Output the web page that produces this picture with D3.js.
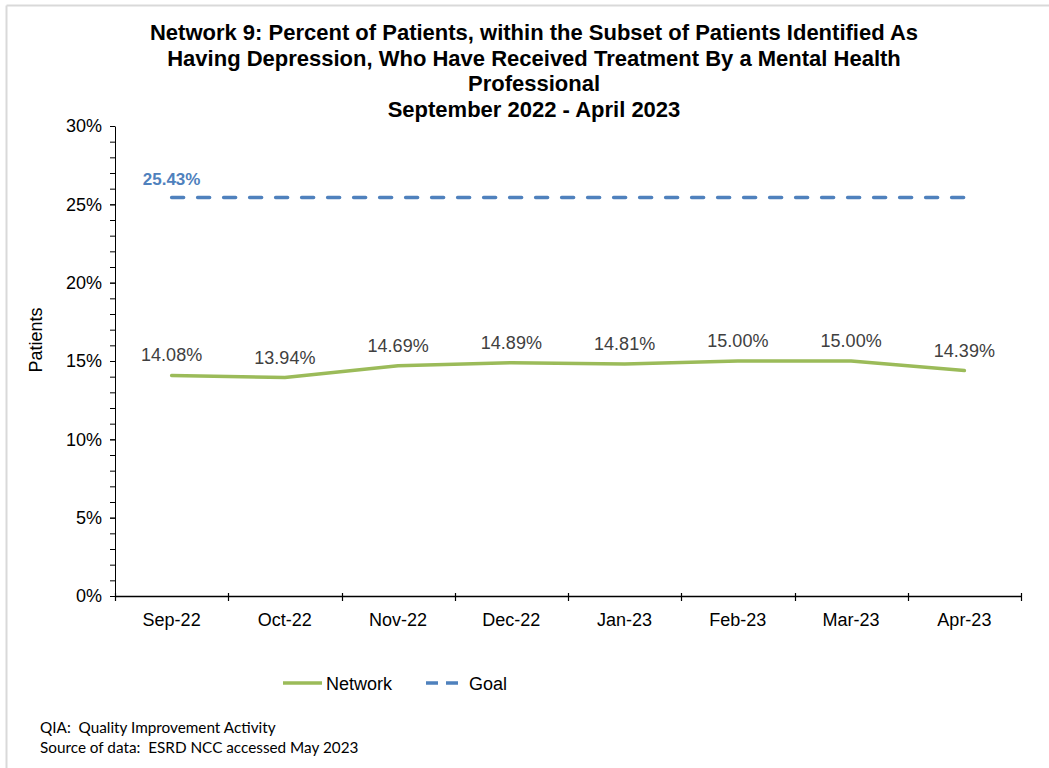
<!DOCTYPE html>
<html>
<head>
<meta charset="utf-8">
<script src="https://cdn.jsdelivr.net/npm/d3@7"></script>
<style>
  html, body { margin: 0; padding: 0; background: #fff; }
  svg { display: block; }
</style>
</head>
<body>
<svg id="chart" width="1049" height="768"></svg>
<script>
const categories = ["Sep-22", "Oct-22", "Nov-22", "Dec-22", "Jan-23", "Feb-23", "Mar-23", "Apr-23"];
const networkValues = [14.08, 13.94, 14.69, 14.89, 14.81, 15.00, 15.00, 14.39];
const goalValues = [25.43, 25.43, 25.43, 25.43, 25.43, 25.43, 25.43, 25.43];
const yTicks = [0, 5, 10, 15, 20, 25, 30];
const titleLines = [
  "Network 9: Percent of Patients, within the Subset of Patients Identified As",
  "Having Depression, Who Have Received Treatment By a Mental Health",
  "Professional",
  "September 2022 - April 2023"
];
const footerLines = [
  "QIA:  Quality Improvement Activity",
  "Source of data:  ESRD NCC accessed May 2023"
];

const svg = d3.select("#chart");
const font = "'Liberation Sans', Arial, sans-serif";

// chart border (light gray, top & left visible)
svg.append("line").attr("x1", 6.5).attr("x2", 1049).attr("y1", 5.5).attr("y2", 5.5)
  .attr("stroke", "#d9d9d9").attr("stroke-width", 2);
svg.append("line").attr("x1", 6.5).attr("x2", 6.5).attr("y1", 5.5).attr("y2", 768)
  .attr("stroke", "#d9d9d9").attr("stroke-width", 2);

// title
const title = svg.append("text").attr("text-anchor", "middle")
  .attr("font-family", font).attr("font-weight", "bold").attr("font-size", 22).attr("fill", "#000");
titleLines.forEach((t, i) => {
  title.append("tspan").attr("x", 534).attr("y", 40 + i * 25.7).text(t);
});

const x0 = 115, x1 = 1021, yTop = 126, yBot = 596;
const x = d3.scaleBand().domain(categories).range([x0, x1]).padding(0);
const y = d3.scaleLinear().domain([0, 30]).range([yBot, yTop]);
const cx = d => x(d) + x.bandwidth() / 2;

// Y axis minor ticks
const yMinor = svg.append("g").attr("transform", `translate(${x0},0)`)
  .call(d3.axisLeft(y).tickValues(d3.range(0, 31, 1)).tickSize(5).tickFormat(""));
yMinor.select(".domain").remove();
yMinor.selectAll("line").attr("stroke", "#000");

// Y axis
const yAxis = svg.append("g").attr("transform", `translate(${x0},0)`)
  .call(d3.axisLeft(y).tickValues(yTicks).tickSize(5).tickSizeOuter(0).tickPadding(8)
    .tickFormat(d => d + "%"));
yAxis.select(".domain").attr("stroke", "#000").attr("stroke-width", 1);
yAxis.selectAll("line").attr("stroke", "#000");
yAxis.selectAll("text").attr("font-family", font).attr("font-size", 18).attr("fill", "#000");

// X axis
const boundaries = categories.map(c => x(c)).concat([x1]);
const xg = svg.append("g");
xg.append("line").attr("x1", x0).attr("x2", x1).attr("y1", yBot + 0.5).attr("y2", yBot + 0.5)
  .attr("stroke", "#000").attr("stroke-width", 1.3);
xg.selectAll("line.tk").data(boundaries).join("line").attr("class", "tk")
  .attr("x1", d => Math.round(d) + 0.5).attr("x2", d => Math.round(d) + 0.5)
  .attr("y1", yBot - 3).attr("y2", yBot + 5).attr("stroke", "#000").attr("stroke-width", 1.2);
xg.selectAll("text").data(categories).join("text")
  .attr("x", d => cx(d)).attr("y", 626).attr("text-anchor", "middle")
  .attr("font-family", font).attr("font-size", 18).attr("fill", "#000").text(d => d);

// Y axis title
svg.append("text").attr("transform", "translate(42,340) rotate(-90)")
  .attr("text-anchor", "middle").attr("font-family", font).attr("font-size", 18)
  .attr("fill", "#000").text("Patients");

// Goal line
const goalColor = "#4f81bd";
const netColor = "#9bbb59";
const line = d3.line().x((d, i) => cx(categories[i])).y(d => y(d));
svg.append("path").datum(goalValues).attr("d", line).attr("fill", "none")
  .attr("stroke", goalColor).attr("stroke-width", 3.5).attr("stroke-dasharray", "12,14")
  .attr("stroke-linecap", "round");
svg.append("text").attr("x", cx(categories[0])).attr("y", y(goalValues[0]) - 13)
  .attr("text-anchor", "middle").attr("font-family", font).attr("font-weight", "bold")
  .attr("font-size", 17).attr("fill", goalColor).text(goalValues[0].toFixed(2) + "%");

// Network line
svg.append("path").datum(networkValues).attr("d", line).attr("fill", "none")
  .attr("stroke", netColor).attr("stroke-width", 3.5).attr("stroke-linecap", "round")
  .attr("stroke-linejoin", "round");
svg.selectAll("text.nl").data(networkValues).join("text").attr("class", "nl")
  .attr("x", (d, i) => cx(categories[i])).attr("y", d => y(d) - 14)
  .attr("text-anchor", "middle").attr("font-family", font).attr("font-size", 18)
  .attr("fill", "#404040").text(d => d.toFixed(2) + "%");

// Legend
const lg = svg.append("g");
lg.append("line").attr("x1", 283).attr("x2", 322).attr("y1", 683).attr("y2", 683)
  .attr("stroke", netColor).attr("stroke-width", 3.5);
lg.append("text").attr("x", 326).attr("y", 689.5).attr("font-family", font).attr("font-size", 18)
  .attr("fill", "#000").text("Network");
lg.append("line").attr("x1", 426).attr("x2", 458).attr("y1", 683).attr("y2", 683)
  .attr("stroke", goalColor).attr("stroke-width", 3.5).attr("stroke-dasharray", "12,8");
lg.append("text").attr("x", 469).attr("y", 689.5).attr("font-family", font).attr("font-size", 18)
  .attr("fill", "#000").text("Goal");

// Footer
footerLines.forEach((t, i) => {
  svg.append("text").attr("x", 40).attr("y", 733 + i * 20).attr("font-family", "Lato, 'Open Sans', sans-serif")
    .attr("font-size", 15.3).attr("fill", "#000").attr("xml:space", "preserve").style("white-space", "pre").text(t);
});
</script>
</body>
</html>
